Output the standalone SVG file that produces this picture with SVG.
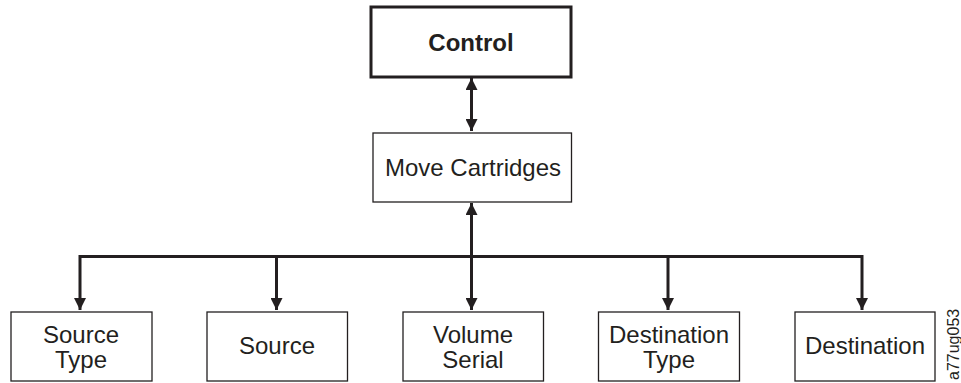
<svg xmlns="http://www.w3.org/2000/svg" width="961" height="383" viewBox="0 0 961 383">
<style>
.box{fill:#fff;stroke:#231f20;stroke-width:1.3}
.thick{fill:#fff;stroke:#231f20;stroke-width:3}
.t{font-family:"Liberation Sans",Arial,sans-serif;font-size:24px;fill:#231f20;text-anchor:middle}
.b{font-weight:bold}
.ln{fill:none;stroke:#231f20;stroke-width:3}
.id{font-family:"Liberation Sans",Arial,sans-serif;font-size:16px;fill:#231f20}
</style>
<defs>
<marker id="ah" viewBox="0 0 12 12" refX="12" refY="6" markerWidth="12" markerHeight="12" markerUnits="userSpaceOnUse" orient="auto-start-reverse">
<path d="M0,0L12,6L0,12Z" fill="#231f20"/>
</marker>
</defs>
<g id="connectors">
<line class="ln" x1="471.5" y1="78" x2="471.5" y2="131" marker-start="url(#ah)" marker-end="url(#ah)"/>
<line class="ln" x1="471.5" y1="203" x2="471.5" y2="310" marker-start="url(#ah)" marker-end="url(#ah)"/>
<polyline class="ln" points="80,310 80,256.5 862,256.5 862,310" marker-start="url(#ah)" marker-end="url(#ah)"/>
<line class="ln" x1="276.5" y1="256.5" x2="276.5" y2="310" marker-end="url(#ah)"/>
<line class="ln" x1="668" y1="256.5" x2="668" y2="310" marker-end="url(#ah)"/>
</g>
<g id="control">
<rect class="thick" x="371" y="7" width="200" height="70"/>
<text class="t b" x="471" y="51">Control</text>
</g>
<g id="move">
<rect class="box" x="373" y="133" width="198.5" height="69"/>
<text class="t" x="473" y="176">Move Cartridges</text>
</g>
<g id="sourcetype">
<rect class="box" x="11" y="312" width="141" height="69"/>
<text class="t" x="81" y="343">Source</text>
<text class="t" x="81" y="368">Type</text>
</g>
<g id="source">
<rect class="box" x="207" y="312" width="140.5" height="69"/>
<text class="t" x="277" y="354">Source</text>
</g>
<g id="volumeserial">
<rect class="box" x="403" y="312" width="140.5" height="69"/>
<text class="t" x="473" y="343">Volume</text>
<text class="t" x="473" y="368">Serial</text>
</g>
<g id="desttype">
<rect class="box" x="598.5" y="312" width="141" height="69"/>
<text class="t" x="669" y="343">Destination</text>
<text class="t" x="669" y="368">Type</text>
</g>
<g id="destination">
<rect class="box" x="795" y="312" width="140" height="69"/>
<text class="t" x="865" y="354">Destination</text>
</g>
<text class="id" transform="translate(959,380) rotate(-90)">a77ug053</text>
</svg>
